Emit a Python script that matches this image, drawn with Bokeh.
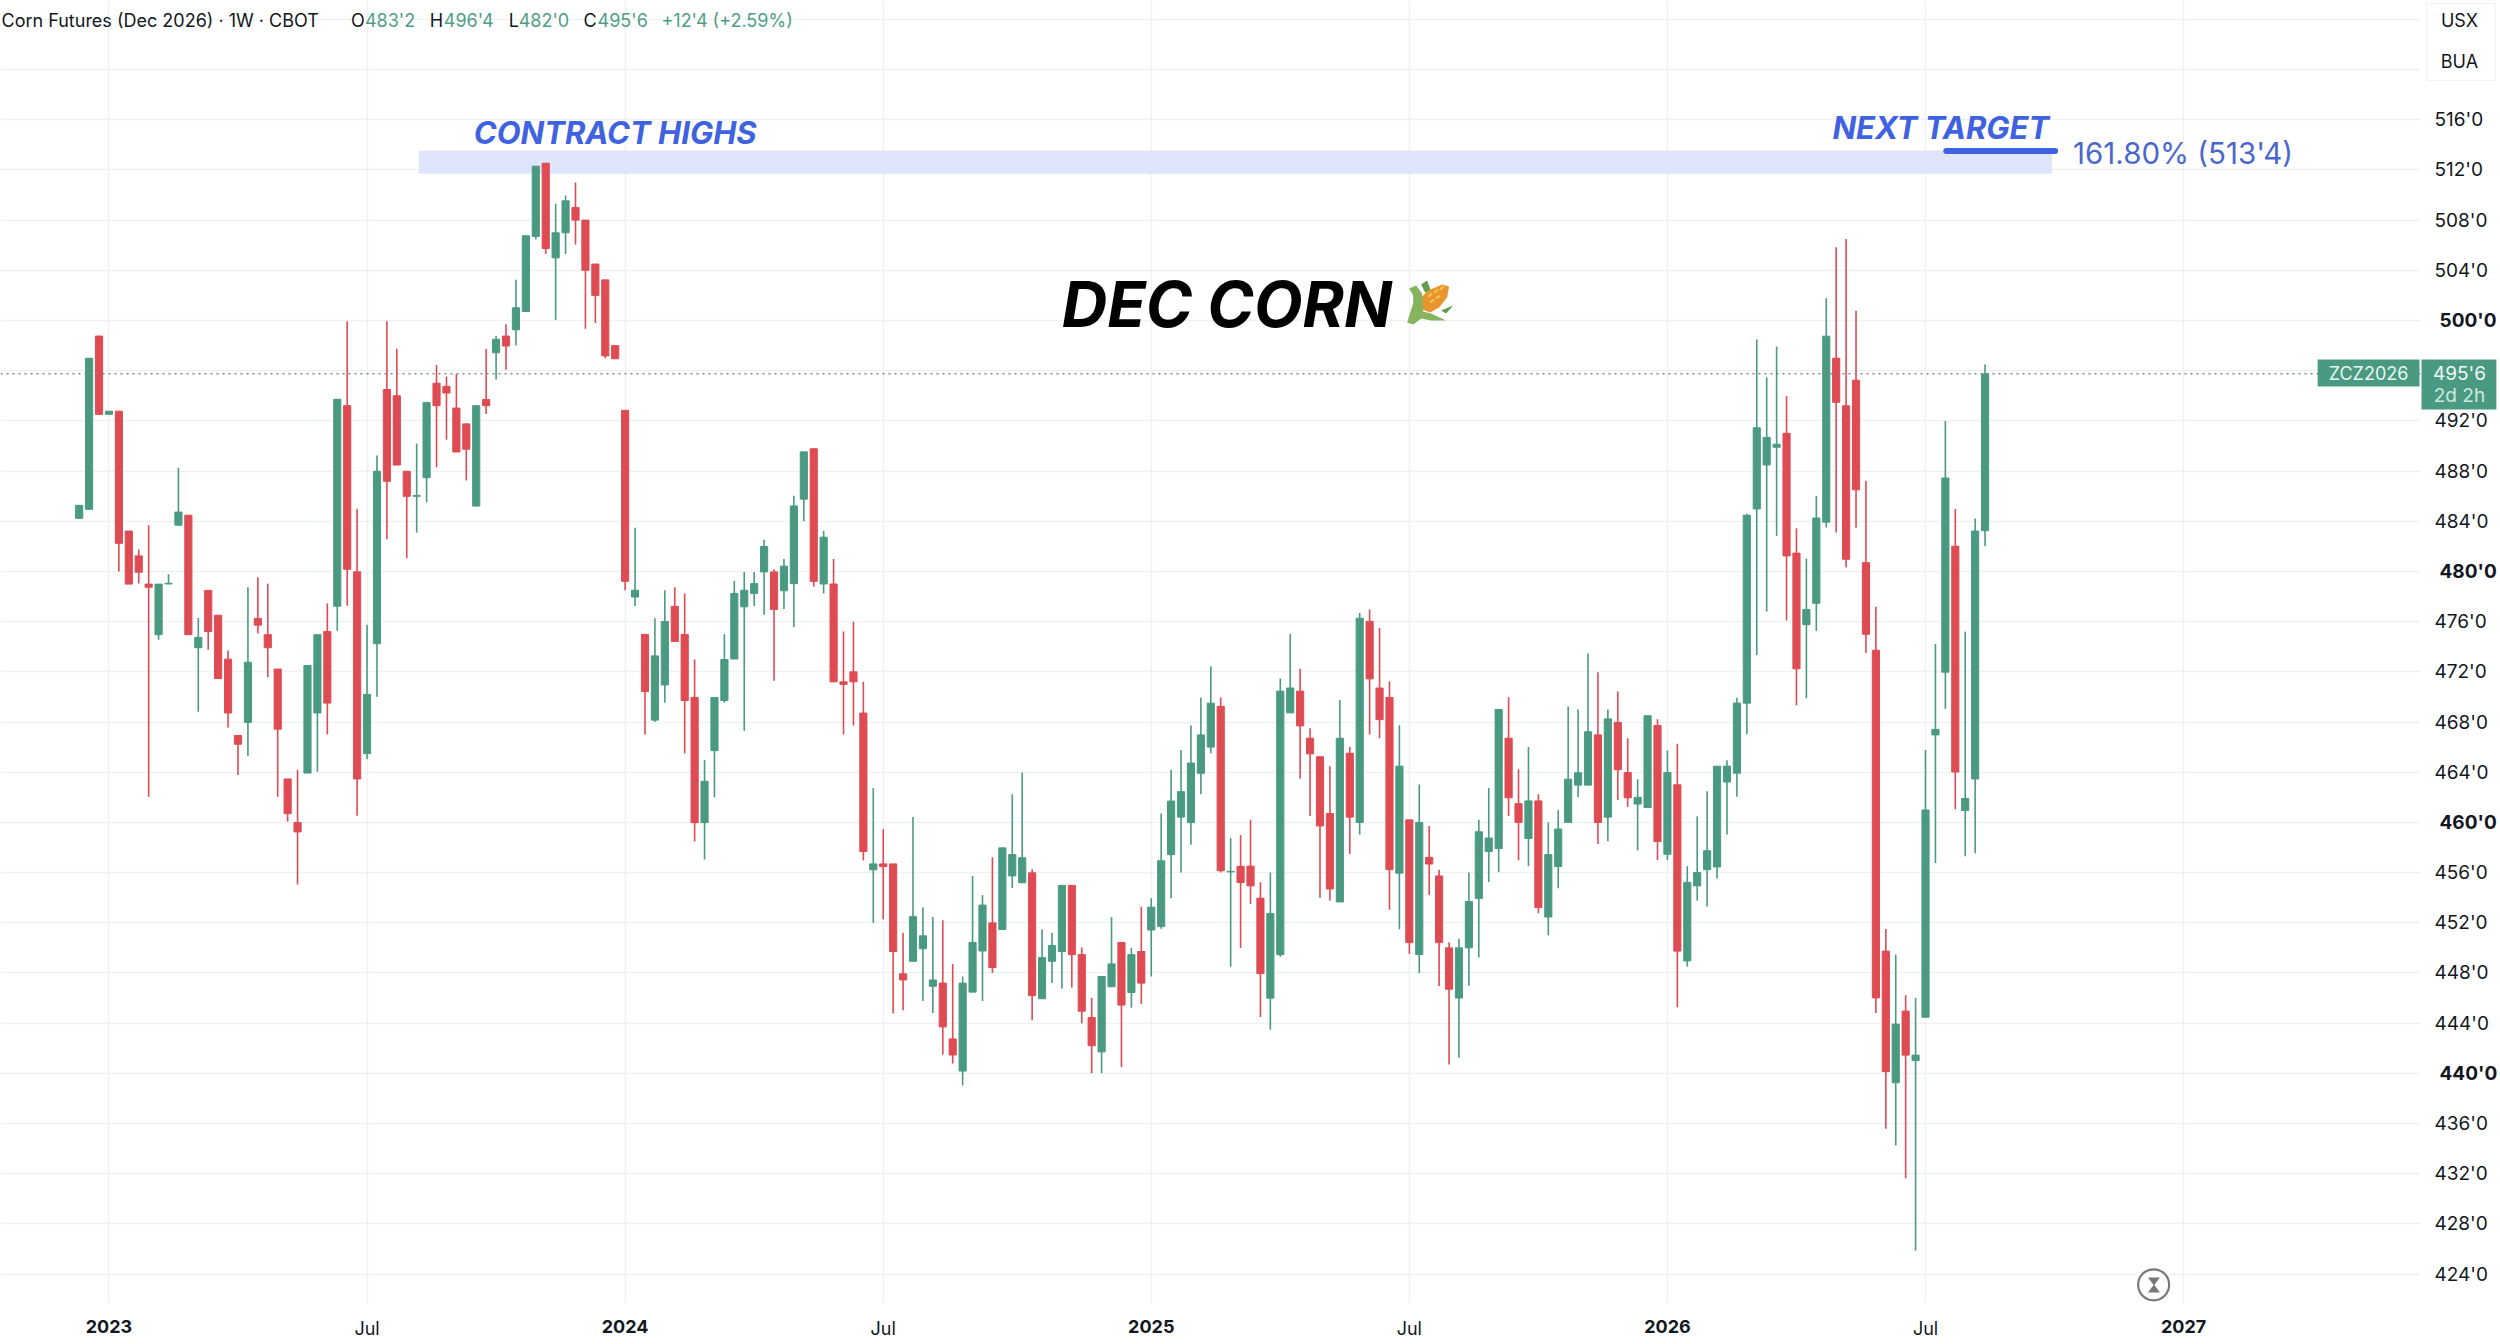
from bokeh.plotting import figure
from bokeh.models import Range1d, Span, FixedTicker, LinearAxis
from bokeh.core.properties import value
from bokeh.embed import file_html
from bokeh.resources import INLINE

opens = [484.23,484.95,498.76,492.52,492.77,483.22,481.24,478.99,474.96,479.0,
483.69,484.48,473.92,478.49,476.51,473.01,466.93,467.97,476.26,474.96,
472.22,463.46,459.99,463.93,468.72,475.21,477.23,493.21,479.97,465.48,
474.24,494.5,494.0,487.98,485.99,487.47,495.0,494.75,493.02,491.76,
485.21,493.71,497.43,498.76,499.26,500.72,506.7,512.54,504.99,506.99,
509.0,508.0,504.5,503.24,498.0,492.84,477.96,474.98,468.15,470.95,
477.22,474.98,469.96,459.98,465.72,469.71,473.02,477.18,478.25,479.96,
479.96,478.46,479.03,485.76,489.78,479.0,479.0,471.2,472.0,468.71,
456.22,456.69,456.69,447.93,448.93,449.93,446.94,447.19,442.74,440.18,
446.47,449.75,451.99,451.46,455.73,455.19,455.98,445.94,448.93,449.71,
454.98,449.46,444.45,441.71,446.9,450.43,446.44,449.71,451.42,451.71,
457.43,460.42,459.98,463.91,466.0,469.25,456.05,456.5,456.51,453.96,
445.99,449.46,468.73,470.46,466.71,465.23,460.7,453.66,465.51,460.0,
476.02,470.71,469.96,455.95,460.2,449.46,457.21,455.73,450.0,446.0,
450.0,453.94,457.68,457.91,466.71,461.49,458.72,461.71,452.46,456.48,
460.0,462.97,462.97,466.97,460.42,467.97,463.97,461.46,461.18,467.72,
457.46,463.0,448.96,454.94,456.23,456.45,463.22,463.92,469.5,484.98,
488.49,489.9,491.01,481.46,475.76,477.46,483.93,497.0,493.2,495.24,
480.7,473.72,449.74,439.25,444.96,441.01,444.47,466.97,471.97,482.01,460.94,463.46,483.25]

closes = [485.27,496.99,492.52,492.77,482.24,478.99,479.94,478.74,478.99,479.05,
484.73,474.96,474.74,475.21,471.46,468.72,466.23,472.76,475.72,473.92,
467.43,460.69,459.24,472.5,474.96,469.51,493.72,480.17,463.46,470.2,
487.98,487.19,488.48,485.99,486.05,493.46,493.21,494.22,489.52,489.74,
493.21,493.21,498.5,497.97,501.01,506.75,512.3,505.74,506.99,509.54,
508.0,504.0,502.0,497.18,496.95,479.21,478.5,470.42,473.27,476.01,
474.41,469.71,459.98,463.27,469.96,472.98,478.25,478.5,479.03,481.99,
476.97,480.42,485.22,489.53,479.21,482.73,471.2,471.0,471.2,457.68,
456.69,456.47,449.71,447.44,452.49,450.96,447.44,443.7,441.46,447.19,
450.43,453.41,448.43,457.97,457.43,457.18,446.19,449.22,450.18,454.98,
449.46,444.95,442.2,447.72,448.72,445.44,449.46,447.19,453.24,456.94,
461.7,462.45,464.73,466.97,469.5,456.15,456.1,455.2,454.94,447.95,
452.73,470.46,470.71,467.69,465.46,459.72,454.69,466.71,460.42,476.27,
471.44,468.19,456.23,464.48,450.42,460.0,456.68,450.42,446.7,450.0,
453.69,459.25,458.75,469.0,461.96,460.0,461.71,453.21,457.43,459.47,
463.44,463.95,467.22,460.0,468.25,464.2,461.96,461.99,468.5,458.47,
463.97,449.74,455.22,456.0,457.74,464.48,464.48,469.51,484.48,491.45,
490.68,490.14,481.24,472.24,476.96,484.26,498.75,493.48,480.97,486.51,
474.99,446.01,440.14,443.92,441.45,441.45,460.99,467.41,487.45,464.01,461.9,483.22,495.75]

highs = [485.27,496.99,498.76,492.77,492.77,483.22,481.74,483.69,478.99,479.78,
488.26,484.48,476.29,478.49,476.51,473.7,466.93,478.74,479.53,479.03,
472.22,463.46,464.19,472.5,474.96,477.45,493.72,499.95,484.98,475.75,
489.24,499.95,497.75,487.98,490.19,493.46,496.46,495.54,495.73,491.76,
493.21,497.75,498.76,499.7,503.24,506.75,512.3,512.55,509.3,509.96,
511.0,508.0,504.5,503.24,498.0,492.84,483.48,474.98,476.26,478.5,
478.75,478.25,472.98,464.98,469.96,475.01,479.25,479.96,479.96,482.52,
480.17,480.99,486.04,489.53,489.78,483.23,480.99,475.22,476.0,471.2,
462.74,459.46,456.69,451.21,460.42,453.24,452.45,452.2,448.72,447.72,
455.73,454.2,457.22,457.97,462.24,463.98,456.26,451.46,451.21,454.98,
454.98,450.03,446.01,447.72,452.45,450.43,450.0,453.27,453.95,460.71,
464.2,465.76,467.72,469.96,472.45,469.96,458.75,458.99,460.2,455.22,
456.01,471.47,475.02,472.25,467.5,465.23,464.48,469.76,466.01,476.69,
476.97,475.49,471.24,467.75,460.2,463.02,459.72,456.23,450.44,450.72,
456.01,460.2,462.74,469.0,469.98,464.23,466.01,462.24,460.0,460.98,
469.23,469.0,473.45,471.97,469.0,470.43,466.71,463.44,468.5,468.22,
465.73,466.27,456.51,460.48,462.49,464.48,464.95,469.93,484.6,498.48,
495.46,497.93,493.98,483.44,481.02,486.02,501.77,505.83,506.49,500.78,
487.23,477.18,451.5,449.47,446.23,446.0,465.76,474.22,492.0,484.98,475.2,484.21,496.5]

lows = [484.23,484.95,492.52,492.52,480.0,478.99,479.03,462.04,474.55,479.0,
483.69,474.96,468.82,473.76,471.46,467.56,463.78,465.29,475.06,471.56,
462.04,460.06,455.04,463.93,464.03,467.02,475.28,477.26,460.53,465.04,
470.01,482.56,488.48,481.05,483.1,485.52,488.3,490.5,489.52,487.25,
485.21,492.55,495.3,496.08,498.0,500.72,506.48,505.3,500.05,505.3,
506.06,499.34,499.8,497.0,496.95,478.5,477.25,467.0,468.0,469.53,
474.41,465.5,458.47,457.04,462.0,469.53,473.02,467.29,477.25,476.54,
471.28,477.0,475.55,484.01,478.78,478.25,471.2,467.0,467.72,456.97,
451.99,452.27,444.77,445.02,448.93,445.76,444.8,441.49,440.78,439.04,
446.47,445.76,448.0,451.46,454.77,455.19,444.23,445.94,447.19,446.76,
446.83,443.98,440.0,440.0,446.9,440.5,445.23,445.52,447.72,451.53,
453.95,456.01,458.22,462.24,465.51,456.01,448.5,450.0,453.49,444.49,
443.48,449.3,468.73,463.5,460.51,454.0,453.77,453.66,457.49,459.03,
467.0,466.71,453.04,451.48,449.52,447.98,454.22,446.95,440.71,441.24,
446.98,449.24,455.25,456.03,460.51,456.98,456.51,452.76,451.0,454.75,
460.0,462.0,462.97,458.27,458.49,461.77,461.23,457.77,461.18,456.99,
457.0,445.27,448.51,453.77,453.29,455.53,459.03,462.05,467.03,473.34,
476.8,482.83,476.09,469.33,469.88,475.26,483.5,483.11,480.31,483.49,
473.5,444.8,435.58,434.26,431.63,425.87,444.47,456.76,469.06,461.05,457.3,457.53,482.0]

assert len(opens) == len(closes) == len(highs) == len(lows) == 193

year_ticks = [3, 55, 108, 160, 212]
year_labels = ["2023", "2024", "2025", "2026", "2027"]
jul_ticks = [29, 81, 134, 186]
price_ticks = list(range(424, 528, 4))
bold_prices = [440, 460, 480, 500]
hidden_prices = [496, 520, 524]
last_price = 495.75
target_price = 513.5
zone_low, zone_high = 511.69, 513.55

GREEN = "#4a9a82"
RED = "#df4b53"
BLUE = "#3f62e0"
INK = "#131722"
FONT = "Inter"

FRAME_R, FRAME_B = 2424, 1303
X = lambda px: (px - 78.8) / 9.943
Y = lambda py: 500 + (320 - py) / 12.547

p = figure(width=2500, height=1344, output_backend="svg", toolbar_location=None,
           x_range=Range1d(X(0), X(FRAME_R)), y_range=Range1d(Y(FRAME_B), Y(0)),
           y_axis_location="right", min_border_left=0, min_border_top=0,
           min_border_right=2500 - FRAME_R, min_border_bottom=1344 - FRAME_B,
           outline_line_color=None, background_fill_color="white", border_fill_color="white")

p.xgrid.ticker = FixedTicker(ticks=sorted(year_ticks + jul_ticks))
p.ygrid.ticker = FixedTicker(ticks=price_ticks)
for g in (p.xgrid, p.ygrid):
    g.grid_line_color = "#f0f1f3"
    g.grid_line_width = 1.6

axis_style = dict(axis_line_color=None, major_tick_line_color=None, minor_tick_line_color=None,
                  major_tick_out=0, major_tick_in=0, minor_tick_out=0, minor_tick_in=0,
                  major_label_text_font=FONT, major_label_text_color=INK)

xa = p.xaxis[0]
xa.ticker = FixedTicker(ticks=jul_ticks)
xa.major_label_overrides = {t: "Jul" for t in jul_ticks}
xa.major_label_text_font_size = "18px"
xa.major_label_standoff = 14
ya = p.yaxis[0]
ya.ticker = FixedTicker(ticks=[t for t in price_ticks if t not in bold_prices + hidden_prices])
ya.major_label_overrides = {t: f"{t}'0" for t in price_ticks}
ya.major_label_text_font_size = "19px"
ya.major_label_standoff = 14
for a in (xa, ya):
    a.update(**axis_style)

ya_bold = LinearAxis(ticker=FixedTicker(ticks=bold_prices),
                     major_label_overrides={t: f"{t}'0" for t in bold_prices},
                     major_label_text_font_size="19px", major_label_text_font_style="bold",
                     major_label_standoff=-53, **axis_style)
p.add_layout(ya_bold, "right")
xa_bold = LinearAxis(ticker=FixedTicker(ticks=year_ticks),
                     major_label_overrides=dict(zip(year_ticks, year_labels)),
                     major_label_text_font_size="18px", major_label_text_font_style="bold",
                     major_label_standoff=-22, **axis_style)
p.add_layout(xa_bold, "below")

# contract-high zone
p.quad(left=[X(419)], right=[X(2055)], bottom=[zone_low], top=[zone_high],
       fill_color="#dfe5fb", line_color=None)

# candles
idx = list(range(len(opens)))
cols = [GREEN if c >= o else RED for o, c in zip(opens, closes)]
p.segment(idx, lows, idx, highs, line_color=cols, line_width=1.6)
p.vbar(x=idx, width=0.72, bottom=[min(o, c) for o, c in zip(opens, closes)],
       top=[max(o, c) for o, c in zip(opens, closes)], fill_color=cols, line_color=cols, line_width=1)

p.add_layout(Span(location=last_price, dimension="width", line_color="#7f8a8a",
                  line_dash="2 4", line_width=1.4))

p.segment([X(1949)], [target_price], [X(2058)], [target_price], line_color=BLUE,
          line_width=6, line_cap="round")


def txt(s, x, y, size, color=INK, style="normal", align="left"):
    p.text(x=[X(x)], y=[Y(y)], text=[s], text_font=value(FONT), text_font_size=f"{size}px",
           text_color=color, text_font_style=style, text_align=align, text_baseline="middle",
           level="overlay")


def box(x0, x1, y0, y1, color, line=None):
    p.quad(left=[X(x0)], right=[X(x1)], top=[Y(y0)], bottom=[Y(y1)], fill_color=color,
           line_color=line, level="overlay")


# header
HG = "#4e9e85"
txt("Corn Futures (Dec 2026) · 1W · CBOT", 1, 20, 18)
txt("O", 351, 20, 18); txt("483'2", 365, 20, 18, HG)
txt("H", 430, 20, 18); txt("496'4", 444, 20, 18, HG)
txt("L", 509, 20, 18); txt("482'0", 519, 20, 18, HG)
txt("C", 584, 20, 18); txt("495'6", 598, 20, 18, HG)
txt("+12'4 (+2.59%)", 662, 20, 18, HG)

# annotations
txt("CONTRACT HIGHS", 474, 132, 31, BLUE, "bold italic")
txt("NEXT TARGET", 1835, 127, 31, BLUE, "bold italic")
txt("161.80% (513'4)", 2076, 152, 29.5, "#4a68cc")
txt("DEC CORN", 1063, 303, 63, "#000000", "bold italic")

# currency card and last-price tags
box(2430, 2499, 3, 80, "white", "#f2f3f5")
txt("USX", 2463, 20, 18, INK, align="center")
txt("BUA", 2463, 61, 18, INK, align="center")
box(2321, 2423, 359, 386, GREEN)
box(2425, 2500, 359, 409, GREEN)
txt("ZCZ2026", 2372, 373, 18, "#e8f4f0", align="center")
txt("495'6", 2463, 373, 19, "#f0f8f5", align="center")
txt("2d 2h", 2463, 395, 19, "#cfe8df", align="center")

# corn icon, drawn as shapes
def patch(pts, color):
    p.patch([X(a) for a, b in pts], [Y(b) for a, b in pts], fill_color=color, line_color=None)

patch([(1423, 284), (1429, 280), (1433, 291), (1427, 292)], "#5f9e4c")
patch([(1443, 310), (1455, 305), (1448, 313)], "#5f9e4c")
patch([(1423, 297), (1430, 290), (1444, 284), (1451, 286), (1449, 297), (1441, 307), (1432, 312), (1424, 309)], "#e8952f")
patch([(1411, 288), (1418, 285), (1424, 293), (1425, 311), (1433, 313), (1448, 320), (1433, 320),
       (1423, 318), (1415, 324), (1409, 322), (1412, 312), (1415, 303), (1415, 295)], "#86b45e")
for a, b in [(1430, 296), (1436, 292), (1442, 289), (1432, 302), (1438, 298)]:
    p.segment([X(a)], [Y(b)], [X(a + 4)], [Y(b - 3)], line_color="#f7c948", line_width=2)

# hourglass icon
p.scatter([X(2156.7)], [Y(1284.3)], size=31, fill_color="white", line_color="#787878", line_width=2.2)
patch([(2151, 1277), (2163, 1277), (2157, 1285)], "#787878")
patch([(2157, 1284), (2163, 1292), (2151, 1292)], "#787878")

open("out.html", "w").write(file_html(p, INLINE))
